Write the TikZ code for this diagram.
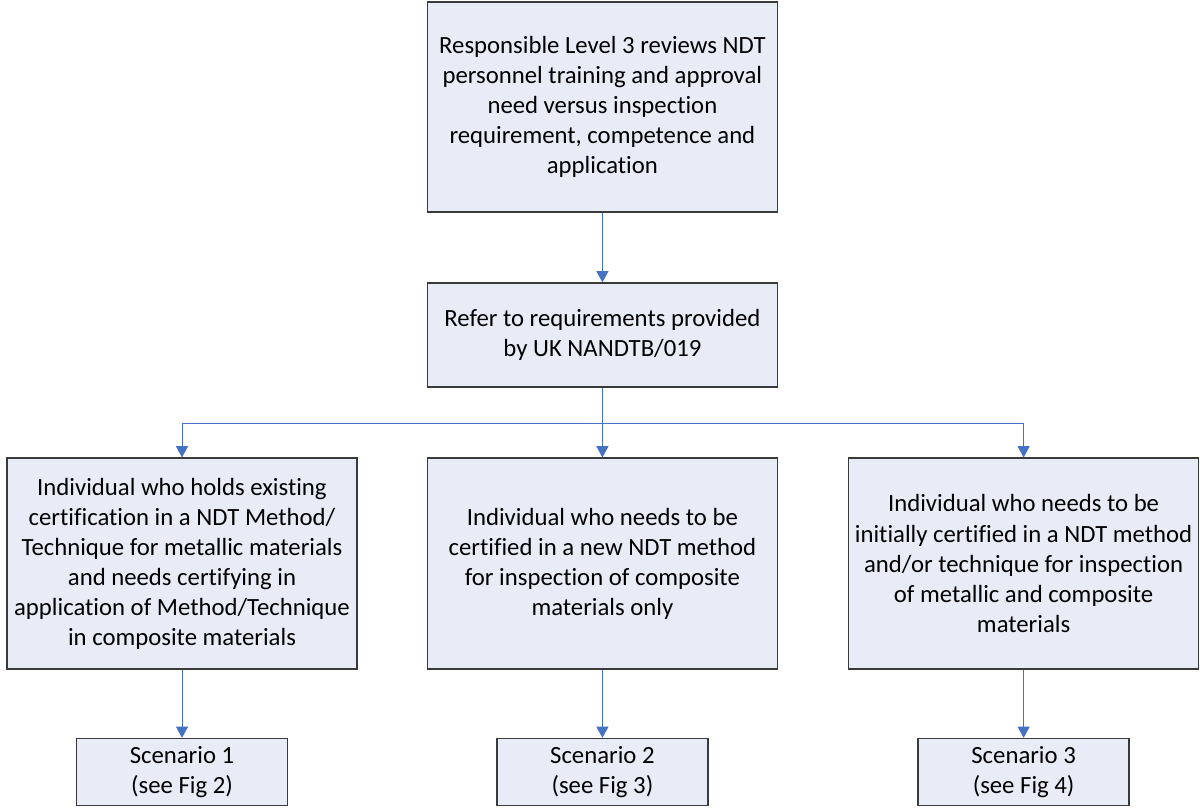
\documentclass[tikz,border=0pt]{standalone}
\usepackage{fontspec}
\setmainfont{Carlito}[Ligatures=NoCommon]
\usetikzlibrary{arrows.meta}

\definecolor{boxfill}{HTML}{E7ECF7}
\definecolor{boxline}{HTML}{3A3A3A}
\definecolor{flowblue}{HTML}{4472C4}

\begin{document}
\begin{tikzpicture}[>={Triangle[width=8.5pt,length=8pt]},
    stagebox/.style={draw=boxline, fill=boxfill, line width=0.9pt, align=center,
        inner sep=0pt, font=\fontsize{17.6}{21.4}\selectfont},
    bigbox/.style={stagebox, minimum width=8.75cm},
    scenbox/.style={stagebox, minimum width=5.275cm, minimum height=1.675cm},
    flow/.style={->, draw=flowblue, line width=0.7pt}]

    % Page frame
    \useasboundingbox (0,0) rectangle (30,-20.25);

    % Review and reference boxes
    \node[bigbox, minimum height=5.25cm] (review) at (15.06,-2.675)
        {Responsible Level 3 reviews NDT\\personnel training and approval\\need versus inspection\\requirement, competence and\\application};
    \node[bigbox, minimum height=2.6cm] (refer) at (15.06,-8.375)
        {Refer to requirements provided\\by UK NANDTB/019};

    % Three cases
    \node[bigbox, minimum height=5.275cm] (caseA) at (4.55,-14.09)
        {Individual who holds existing\\certification in a NDT Method/\\Technique for metallic materials\\and needs certifying in\\application of Method/Technique\\in composite materials};
    \node[bigbox, minimum height=5.275cm] (caseB) at (15.06,-14.09)
        {Individual who needs to be\\certified in a new NDT method\\for inspection of composite\\materials only};
    \node[bigbox, minimum height=5.275cm] (caseC) at (25.59,-14.09)
        {Individual who needs to be\\initially certified in a NDT method\\and/or technique for inspection\\of metallic and composite\\materials};

    % Scenario boxes
    \node[scenbox] (scenA) at (4.55,-19.3) {Scenario 1\\(see Fig 2)};
    \node[scenbox] (scenB) at (15.06,-19.3) {Scenario 2\\(see Fig 3)};
    \node[scenbox] (scenC) at (25.59,-19.3) {Scenario 3\\(see Fig 4)};

    % Connectors
    \coordinate (split) at (15.06,-10.575);
    \draw[flow] (review) -- (refer);
    \draw[flowblue, line width=0.7pt] (refer.south) -- (split);
    \draw[flow] (split) -- (caseB.north);
    \foreach \c in {caseA, caseC}
        \draw[flow] (split) -| (\c.north);
    \foreach \c/\s in {caseA/scenA, caseB/scenB, caseC/scenC}
        \draw[flow] (\c) -- (\s);
\end{tikzpicture}
\end{document}
